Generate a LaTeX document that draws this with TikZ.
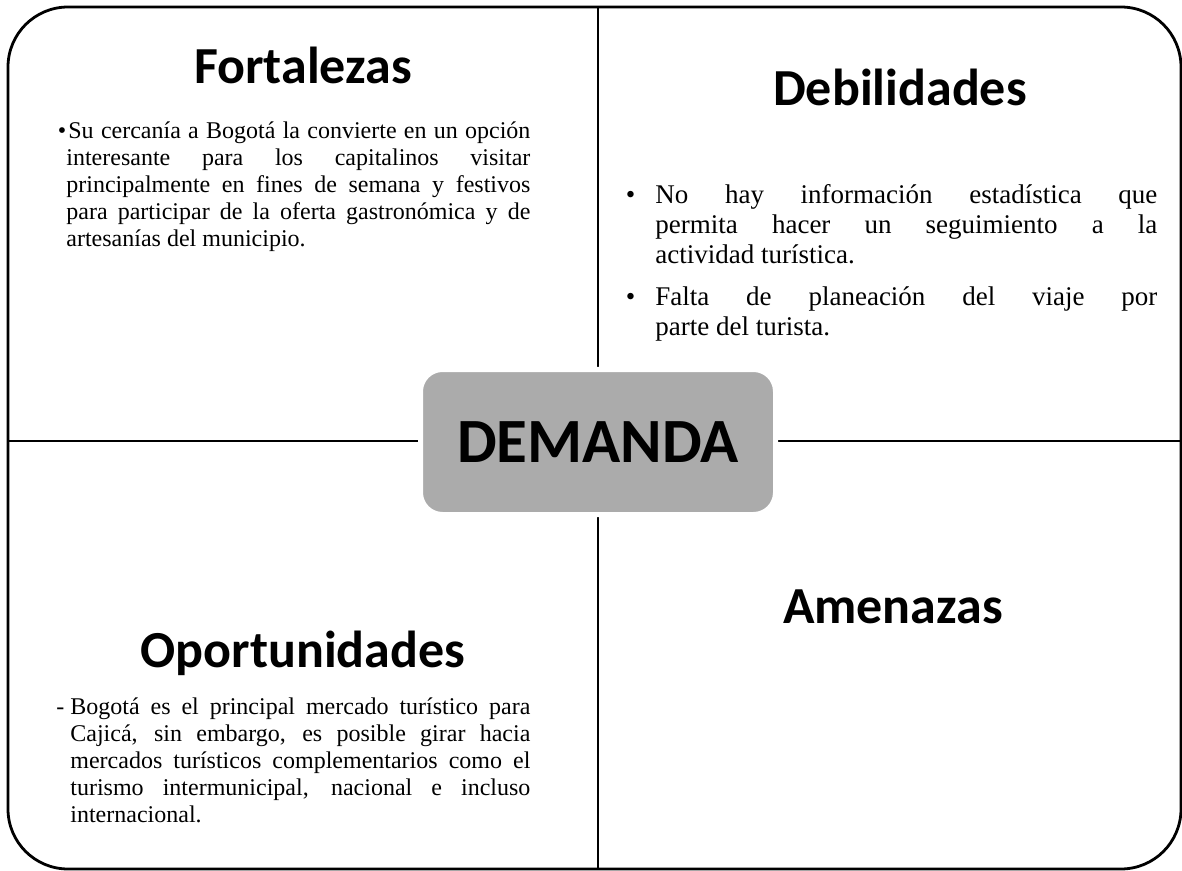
\documentclass[tikz,border=0pt]{standalone}
\usepackage{fontspec}
\setmainfont{Liberation Serif}
\newfontfamily\titlefont{Carlito}
\begin{document}
\begin{tikzpicture}[x=0.5pt,y=-0.5pt,
  frame/.style={line width=1.4pt},
  title/.style={anchor=base,inner sep=0pt,font=\titlefont\bfseries\fontsize{26}{30}\selectfont},
  body/.style={anchor=north west,inner sep=0pt,align=justify,font=\fontsize{12}{13.6}\selectfont},
  hub/.style={fill=black!33,draw=white,line width=2.5pt,rounded corners=11pt,minimum width=177.5pt,minimum height=72.5pt,inner sep=0pt,font=\titlefont\bfseries\fontsize{31.5}{36}\selectfont}]
\useasboundingbox (0,0) rectangle (1182,871);
% frame and cross
\draw[frame,rounded corners=30pt] (8,7) rectangle (1181,869);
\coordinate (n) at (598,7); \coordinate (s) at (598,869);
\coordinate (w) at (8,441); \coordinate (e) at (1181,441);
\draw[line width=1.2pt] (n) -- (s) (w) -- (e);
\node[hub] (demanda) at (598,442) {DEMANDA};
% titles
\node[title] (fort) at (303,84) {Fortalezas};
\node[title] (debil) at (900,106) {Debilidades};
\node[title] (oport) at (303,667) {Oportunidades};
\node[title] (amen) at (893,623) {Amenazas};
% texts
\node[body,text width=232pt] (forttxt) at (66,121) {\leavevmode\llap{\textbullet}\hspace{1pt}Su cercanía a Bogotá la convierte en un opción\linebreak interesante para los capitalinos visitar\linebreak principalmente en fines de semana y festivos\linebreak para participar de la oferta gastronómica y de\linebreak artesanías del municipio.};
\node[body,text width=251pt,font=\fontsize{13.5}{15}\selectfont] (debiltxt) at (655,184) {\leavevmode\llap{\textbullet\hspace{10pt}}No hay información estadística que\linebreak permita hacer un seguimiento a la\linebreak actividad turística.\par\vspace{6pt}\leavevmode\llap{\textbullet\hspace{10pt}}Falta de planeación del viaje por\linebreak parte del turista.};
\node[body,text width=230pt] (oporttxt) at (70,697) {\leavevmode\llap{-\hspace{3pt}}Bogotá es el principal mercado turístico para\linebreak Cajicá, sin embargo, es posible girar hacia\linebreak mercados turísticos complementarios como el\linebreak turismo intermunicipal, nacional e incluso\linebreak internacional.};
\end{tikzpicture}
\end{document}
